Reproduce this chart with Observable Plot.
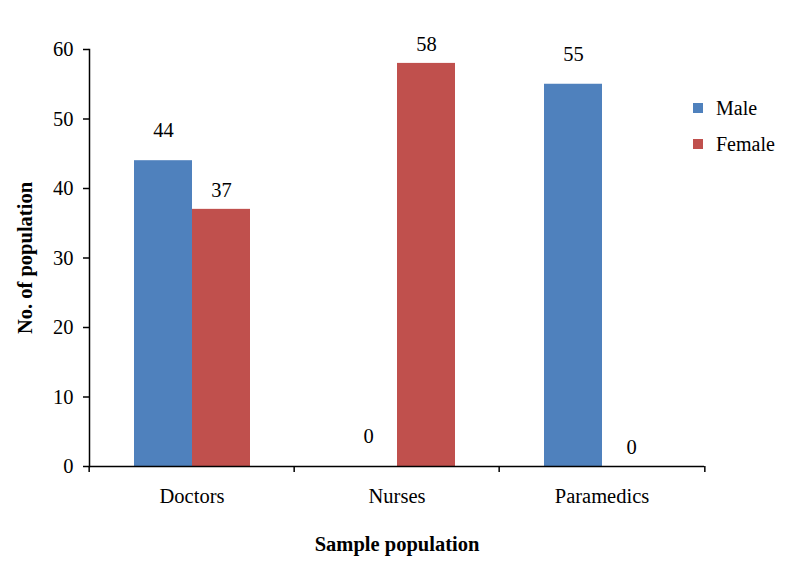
<!DOCTYPE html>
<html><head><meta charset="utf-8">
<script src="https://cdn.jsdelivr.net/npm/d3@7"></script>
<script src="https://cdn.jsdelivr.net/npm/@observablehq/plot@0.6"></script>
<style>
body{margin:0;background:#fff;}
#wrap{position:relative;width:788px;height:572px;font-family:"Liberation Serif","Times New Roman",serif;color:#000;}
#wrap svg, #wrap svg text{font-family:"Liberation Serif","Times New Roman",serif !important;}
g[aria-label$="axis label"]{font-weight:bold;}
.legend{position:absolute;left:693px;top:90px;font-size:20px;line-height:36px;}
.legend .item{display:flex;align-items:center;height:36px;}
.legend .sw{width:10px;height:10px;margin-right:13px;}
</style></head><body><div id="wrap"></div>
<script>
const categories = ["Doctors", "Nurses", "Paramedics"];
const series = ["Male", "Female"];
const male = [44, 0, 55];
const female = [37, 58, 0];
const yTicks = [0, 10, 20, 30, 40, 50, 60];
const colors = ["#4F81BD", "#C0504D"];

const data = categories.flatMap((c, i) => [
  {category: c, series: "Male", value: male[i]},
  {category: c, series: "Female", value: female[i]}
]);

const W = 788, H = 572, ml = 88, mr = 83, mt = 49, mb = 106;
const step = (W - ml - mr) / categories.length;

const chart = Plot.plot({
  width: W, height: H,
  marginLeft: ml, marginRight: mr, marginTop: mt, marginBottom: mb,
  style: {fontFamily: "Liberation Serif, Times New Roman, serif", fontSize: "20.5px", color: "#000", background: "#fff", overflow: "visible"},
  fx: {domain: categories, padding: 0, label: null},
  x: {domain: series, paddingInner: 0, paddingOuter: 0.76, axis: null},
  y: {domain: [0, 60], label: null},
  color: {domain: series, range: colors},
  marks: [
    Plot.barY(data, {fx: "category", x: "series", y: "value", fill: "series"}),
    Plot.text(data.filter(d => d.series === "Male"), {fx: "category", x: "series", y: "value", text: d => String(d.value), dy: -30, fill: "#000"}),
    Plot.text(data.filter(d => d.series === "Female"), {fx: "category", x: "series", y: "value", text: d => String(d.value), dy: -19, fill: "#000"}),
    Plot.ruleY([0], {stroke: "#000", strokeWidth: 1.5}),
    Plot.frame({anchor: "left", facetAnchor: "left", stroke: "#000", strokeWidth: 1.5}),
    Plot.axisY({ticks: yTicks, tickSize: 6, tickPadding: 10, tickFormat: d => d, strokeWidth: 1.5,
      label: "No. of population", labelAnchor: "center", labelArrow: "none", labelOffset: 72}),
    Plot.axisFx({anchor: "bottom", tickSize: 0, tickPadding: 22, label: "Sample population", labelAnchor: "center", labelArrow: "none", labelOffset: 84}),
    Plot.axisFx({anchor: "bottom", text: null, tickSize: 6, strokeWidth: 1.5, dx: -step / 2, label: null}),
    Plot.axisFx({anchor: "bottom", ticks: [categories[categories.length - 1]], text: null, tickSize: 6, strokeWidth: 1.5, dx: step / 2, label: null})
  ]
});
const wrap = document.getElementById("wrap");
wrap.appendChild(chart);
const legend = document.createElement("div");
legend.className = "legend";
series.forEach((s, i) => {
  const item = document.createElement("div");
  item.className = "item";
  const sw = document.createElement("span");
  sw.className = "sw";
  sw.style.background = colors[i];
  item.appendChild(sw);
  item.appendChild(document.createTextNode(s));
  legend.appendChild(item);
});
wrap.appendChild(legend);
</script></body></html>
